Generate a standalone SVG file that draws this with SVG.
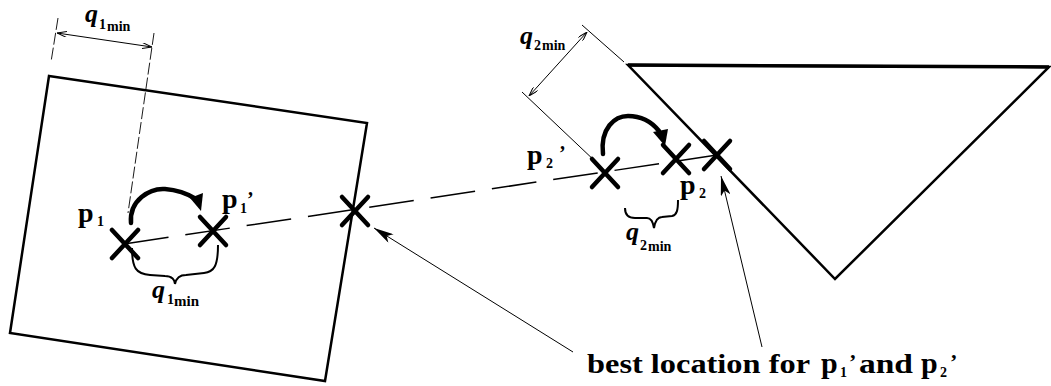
<svg xmlns="http://www.w3.org/2000/svg" width="1051" height="386" viewBox="0 0 1051 386">
<style>
.t{font-family:"Liberation Serif",serif;font-weight:bold;fill:#000}
.p{font-size:28px}
.pc{font-size:30px}
.q{font-size:26px;font-style:italic}
.s{font-size:14px}
.m{font-size:14px}
.obj{fill:none;stroke:#000;stroke-width:2.5;stroke-linejoin:miter}
.x{stroke:#000;stroke-width:4.5;stroke-linecap:round;fill:none}
.thin{stroke:#000;stroke-width:1;fill:none}
.ext{stroke:#000;stroke-width:0.9;fill:none;stroke-dasharray:12 3}
.brace{stroke:#000;stroke-width:2;fill:none}
.curve{stroke:#000;stroke-width:4.5;fill:none;stroke-linecap:round}
</style>
<defs>
<marker id="lead" viewBox="0 0 20 10" refX="20" refY="5" markerWidth="20" markerHeight="10" markerUnits="userSpaceOnUse" orient="auto"><path d="M0,0 L20,5 L0,10 L5,5 z" fill="#000"/></marker>
<marker id="dim" viewBox="0 0 10 6" refX="10" refY="3" markerWidth="10" markerHeight="6" markerUnits="userSpaceOnUse" orient="auto-start-reverse"><path d="M0,0 L10,3 L0,6" fill="none" stroke="#000" stroke-width="1"/></marker>
<g id="xmark"><path d="M-13,-14 L13,14 M13,-14 L-13,14"/></g>
</defs>
<rect width="1051" height="386" fill="#fff"/>

<g id="object1">
<polygon class="obj" points="49,76 367,123 325,381 10,333"/>
</g>
<g id="object2">
<polygon class="obj" points="628,65 1049,67 835,279"/>
<line x1="628" y1="65" x2="1049" y2="67" stroke="#000" stroke-width="3.5"/>
</g>

<g id="connectors">
<line x1="124" y1="244" x2="717" y2="155" stroke="#000" stroke-width="1.5" stroke-dasharray="45 17"/>
<path class="curve" d="M131,223 C129,200 150,188 165,189 C178,190 188,194 196,199"/>
<polygon points="190,198 203,193 201,211" fill="#000"/>
<path class="curve" d="M603,154 C600,128 615,116 628,116 C640,116 651,121 659,131"/>
<polygon points="653,132 668,129 665,146" fill="#000"/>
<line class="thin" x1="573" y1="352" x2="374" y2="228" marker-end="url(#lead)"/>
<line class="thin" x1="762" y1="347" x2="721" y2="176" marker-end="url(#lead)"/>
</g>

<g id="dimension1">
<line class="ext" x1="58" y1="18" x2="51" y2="62"/>
<line class="ext" x1="154" y1="33" x2="128" y2="213"/>
<line class="thin" x1="57" y1="33" x2="152" y2="47" marker-start="url(#dim)" marker-end="url(#dim)"/>
<text class="t q" x="85" y="22">q</text>
<text class="t s" x="99" y="29">1</text>
<text class="t m" x="107" y="31">min</text>
</g>

<g id="dimension2">
<line class="thin" x1="582" y1="25" x2="624" y2="62"/>
<line class="thin" x1="522" y1="92" x2="597" y2="163"/>
<line class="thin" x1="587" y1="32" x2="529" y2="96" marker-start="url(#dim)" marker-end="url(#dim)"/>
<text class="t q" x="520" y="44">q</text>
<text class="t s" x="534" y="50">2</text>
<text class="t m" x="542" y="50">min</text>
</g>

<g id="p1">
<use href="#xmark" class="x" x="125" y="244"/>
<text class="t p" x="78" y="222">p</text>
<text class="t s" x="97" y="226">1</text>
</g>
<g id="p1prime">
<use href="#xmark" class="x" x="213" y="231"/>
<text class="t p" x="222" y="208">p</text>
<text class="t s" x="240" y="213">1</text>
<text class="t" font-size="20" x="247" y="206">’</text>
</g>
<g id="best1">
<use href="#xmark" class="x" x="355" y="211"/>
</g>
<g id="p2prime">
<use href="#xmark" class="x" x="605" y="173"/>
<text class="t p" x="527" y="164">p</text>
<text class="t s" x="546" y="168">2</text>
<text class="t" font-size="20" x="559" y="160">’</text>
</g>
<g id="p2">
<use href="#xmark" class="x" x="676" y="159"/>
<text class="t p" x="680" y="194">p</text>
<text class="t s" x="699" y="198">2</text>
</g>
<g id="best2">
<use href="#xmark" class="x" x="717" y="155"/>
</g>

<g id="brace1">
<path class="brace" d="M132,248 C132,268 136,274 150,275 L165,276 C172,276 175,280 175,284 C176,279 179,275 186,275 L204,273 C214,272 218,266 218,245"/>
<text class="t q" x="152" y="298">q</text>
<text class="t s" x="167" y="304">1</text>
<text class="t" font-size="15" x="174" y="306">min</text>
</g>
<g id="brace2">
<path class="brace" d="M625,208 C625,215 628,218 635,218 L647,218 C651,218 653,222 654,228 C655,222 657,217 662,217 L672,216 C677,215 678,210 678,200"/>
<text class="t q" x="626" y="240">q</text>
<text class="t s" x="640" y="250">2</text>
<text class="t m" x="648" y="251">min</text>
</g>

<g id="caption">
<text class="t" font-size="28" x="587" y="373" textLength="223" lengthAdjust="spacingAndGlyphs">best location for</text>
<text class="t pc" x="821" y="373">p</text>
<text class="t s" x="840" y="377">1</text>
<text class="t" font-size="22" x="849" y="369">’</text>
<text class="t" font-size="28" x="859" y="373" textLength="54" lengthAdjust="spacingAndGlyphs">and</text>
<text class="t pc" x="921" y="373">p</text>
<text class="t s" x="940" y="377">2</text>
<text class="t" font-size="22" x="950" y="369">’</text>
</g>
</svg>
